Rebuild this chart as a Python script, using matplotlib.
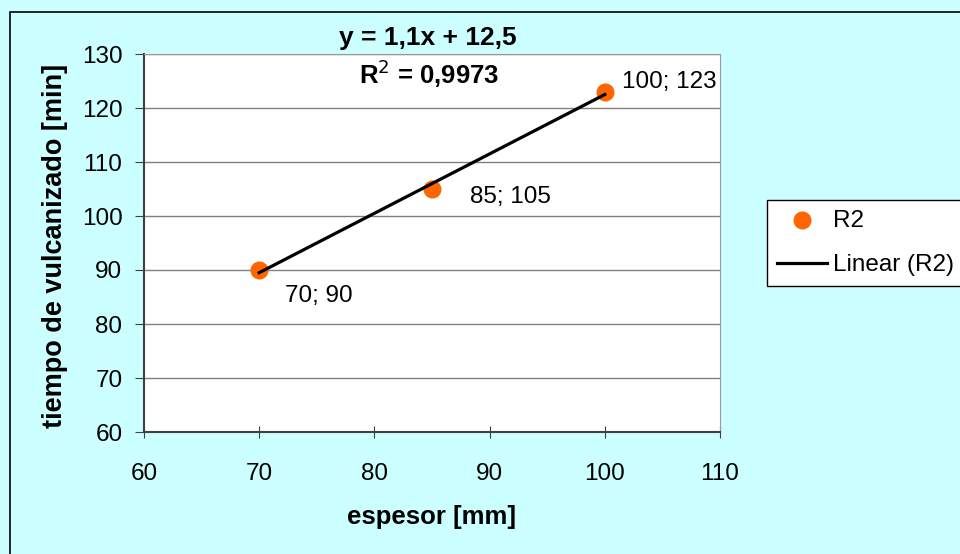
#!/usr/bin/env python3
#
# Tiempo de vulcanizado vs espesor, con recta de tendencia lineal.
#

import numpy as np
import matplotlib
matplotlib.use("Agg")
import matplotlib.pyplot as plt
from matplotlib.patches import Rectangle

plt.rcParams['font.family'] = ['Liberation Sans', 'DejaVu Sans']

# datos medidos
espesor = [70, 85, 100]
tiempo = [90, 105, 123]
# posicion de cada etiqueta respecto a su punto (px)
label_offsets = [(26, -26), (38, -8), (17, 10)]

x_ticks = [60, 70, 80, 90, 100, 110]
y_ticks = [60, 70, 80, 90, 100, 110, 120, 130]

BG = '#CCFFFF'
ORANGE = '#FF6600'
FS = 17.5


def fmt(v):
    return f"{v:g}".replace('.', ',')


# ajuste lineal y R^2
slope, intercept = np.polyfit(espesor, tiempo, 1)
pred = np.polyval([slope, intercept], espesor)
ss_res = np.sum((np.array(tiempo) - pred) ** 2)
ss_tot = np.sum((np.array(tiempo) - np.mean(tiempo)) ** 2)
r2 = 1 - ss_res / ss_tot

fig = plt.figure(figsize=(9.6, 5.54), dpi=100)
fig.patch.set_facecolor(BG)
fig.patches.append(Rectangle((10 / 960, -0.2), 1.2, 1.2 - 12 / 554,
                             transform=fig.transFigure, fill=False,
                             edgecolor='black', linewidth=1.2))

ax = fig.add_axes([144 / 960, 1 - 432 / 554, 576 / 960, 378 / 554])
ax.set_facecolor('white')

ax.scatter(espesor, tiempo, s=13 ** 2, color=ORANGE, zorder=3, label='R2',
           linewidths=0)
xs = np.array([min(espesor), max(espesor)])
ax.plot(xs, slope * xs + intercept, color='black', linewidth=2.3, zorder=4,
        label='Linear (R2)')

for x, y, (dx, dy) in zip(espesor, tiempo, label_offsets):
    ax.annotate(f"{x}; {y}", (x, y), xytext=(dx * 0.72, dy * 0.72),
                textcoords='offset points', ha='left', va='center',
                fontsize=FS)

ax.set_xlim(60, 110)
ax.set_ylim(60, 130)
ax.set_xticks(x_ticks)
ax.set_yticks(y_ticks)
ax.tick_params(labelsize=FS, color='#404040')
ax.tick_params(axis='y', direction='out', length=6.5, pad=9)
ax.tick_params(axis='x', direction='inout', length=9, pad=18)
ax.yaxis.grid(True, color='#808080', linewidth=1)
ax.set_axisbelow(True)

for side in ['top', 'right']:
    ax.spines[side].set_color('#999999')
for side in ['left', 'bottom']:
    ax.spines[side].set_color('#404040')
    ax.spines[side].set_linewidth(1.5)

ax.set_xlabel('espesor [mm]', fontsize=18.5, fontweight='bold', va='center')
ax.xaxis.set_label_coords(0.5, -(517 - 432) / 378)
ax.set_ylabel('tiempo de vulcanizado [min]', fontsize=19.5, fontweight='bold',
              va='center')
ax.yaxis.set_label_coords((55 - 144) / 576, (432 - 246) / 378)

fig.text(428 / 960, 1 - 38 / 554, f"y = {fmt(round(slope, 1))}x + {fmt(round(intercept, 1))}",
         ha='center', va='center', fontsize=19, fontweight='bold')
fig.text(429 / 960, 1 - 74 / 554, f"R$^2$ = {r2:.4f}".replace('.', ','),
         ha='center', va='center', fontsize=18.5, fontweight='bold')

leg = fig.legend(loc='upper left', bbox_to_anchor=(767 / 960, 1 - 200 / 554),
                 fontsize=FS, frameon=True, fancybox=False, framealpha=1,
                 edgecolor='black', borderpad=0.4, handlelength=2.05,
                 handletextpad=0.25, labelspacing=0.92, borderaxespad=0)
leg.get_frame().set_linewidth(1.0)

fig.savefig('out.png', dpi=100, facecolor=BG)
